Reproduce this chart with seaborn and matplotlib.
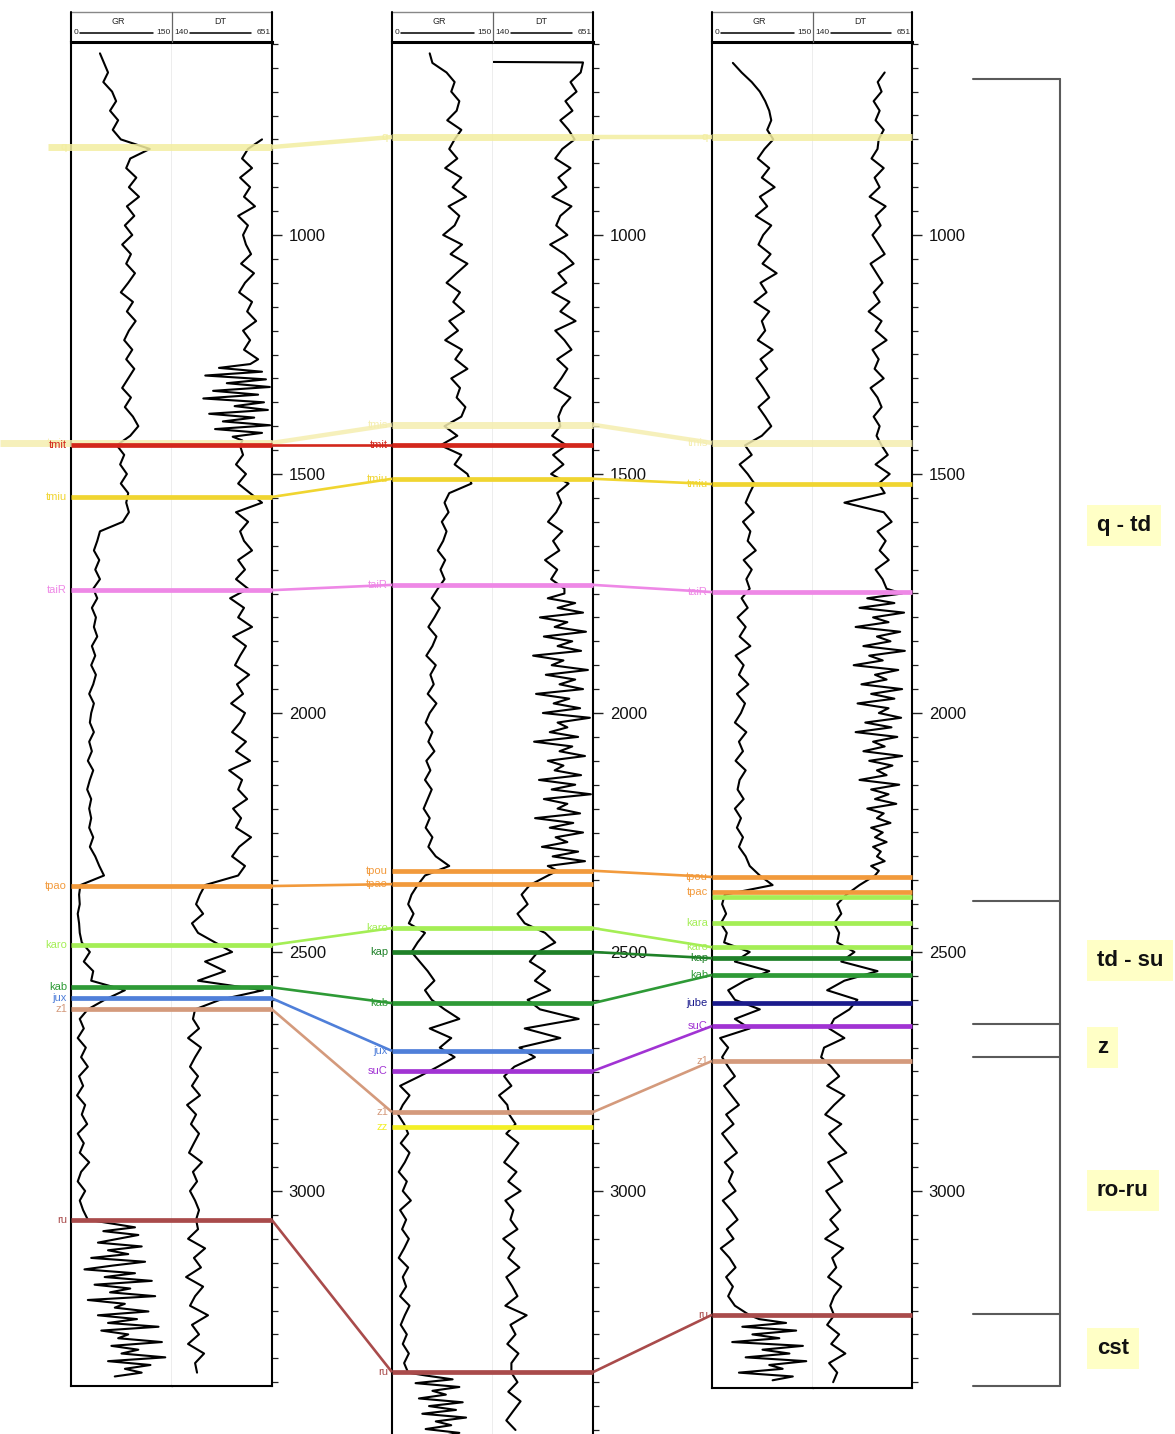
import numpy as np
import pandas as pd
import matplotlib
matplotlib.use("Agg")
import matplotlib.pyplot as plt
from matplotlib.ticker import FixedLocator, MultipleLocator
import seaborn as sns

sns.set_theme(style="white")
plt.rcParams["font.family"] = ["Liberation Sans", "DejaVu Sans"]

# ---------------------------------------------------------------- log data
# Each curve is stored as runs of readings: (top depth m, spacing m, values).
# GR in API (0-150), DT in the 140-651 track scale.

# well 1 ------------------------------------------------------------------
gr1_a = [43, 49, 55, 48, 61, 67, 58, 70, 62, 74,
         117,
         88, 82, 97, 86, 101, 83, 94, 80, 91,
         76, 89, 82, 95, 85, 74, 92, 83, 96, 86, 79, 91, 82, 94, 85, 76, 89, 80, 92, 100, 88,
         68, 79, 73, 83, 74, 85,
         82, 86, 77,
         43,
         39, 34, 42, 36, 43, 33, 39, 31, 37,
         34, 39, 31, 36, 30, 37, 33, 27, 34, 30,
         28, 34, 27, 31, 25, 33, 28, 24, 30, 27,
         30, 27, 33, 28, 36, 42, 49,
         14,
         12, 13, 10, 12, 13,
         16,
         28, 19, 33,
         30, 80, 50, 25,
         13, 19, 10, 22, 15, 25, 12, 18, 9, 21, 16, 24, 10, 19, 13, 27, 15, 10, 21, 13, 18,
         25]
gr1_b = [60, 95, 48, 100, 70, 40, 105, 55, 85, 30, 110, 62, 20, 95, 50, 120, 35, 88, 58, 125,
         25, 80, 65, 115, 40, 98, 55, 130, 45, 85, 70, 135, 60, 100, 75, 140, 55, 118, 80, 105,
         65]

dt1_a = [600,
         528, 498, 549, 488, 539, 508, 564, 478, 528, 503,
         518, 544, 493, 559, 513, 483, 549, 524, 570, 503,
         539, 508, 580]
dt1_b = [540, 380, 600, 310, 620, 420, 640, 350, 580, 300, 610, 460, 630, 330, 560, 400, 641,
         360, 600, 450, 500]
dt1_c = [487,
         503, 467, 518, 478, 539, 600, 467, 529, 488, 508, 549, 478, 513,
         467, 529, 437, 508, 478, 549, 452, 518, 488, 462, 534, 472, 503, 442, 513,
         488, 447, 518, 467, 539, 432, 498, 478, 524, 452, 493, 467, 544, 483, 447, 513, 478,
         309,
         283, 263, 299, 242, 273,
         360, 447, 309, 411,
         273, 605, 385, 258,
         247, 278, 222, 288, 258, 232, 273, 242, 283, 217, 263, 237, 278, 252, 227, 293, 247,
         268, 232, 258, 278,
         263,
         273, 222, 309, 252, 288, 212, 299, 258, 232, 324, 242, 278, 222, 304, 258, 268]

# well 2 ------------------------------------------------------------------
gr2_a = [56, 60,
         81, 93, 88, 100, 96, 82, 103, 93,
         85, 97, 79, 103, 90, 110, 84, 100, 93, 76, 104, 87, 112, 96, 81, 101, 91, 107, 85, 98,
         79, 104, 94, 112, 88, 101, 96, 109, 103,
         78, 97,
         72, 103, 93, 112, 118, 85,
         78, 84, 74, 81, 76, 68, 79, 72, 78,
         68, 59, 71, 63, 54, 66, 60, 51, 65, 57, 62, 53, 66, 56, 50, 60, 54, 63, 51, 57,
         49, 59, 53, 47, 56, 50, 60, 54, 65, 85,
         49,
         38,
         29, 24, 32, 25,
         49, 38, 29, 41, 53, 63, 49, 59,
         78, 100, 56, 88, 71,
         93, 68,
         41, 12, 26, 16,
         9,
         18, 24, 13, 26, 19, 10, 22, 16, 28, 12, 21, 15, 25, 18, 10, 24, 16, 21, 12, 26,
         19, 13, 22, 16, 25, 18,
         24]
gr2_b = [50, 90, 35, 100, 60, 80, 40, 105, 55, 95, 45, 110, 65, 88, 50, 100, 70]

dt2_top = [142, 600]
dt2_a = [588, 536, 567, 510, 546, 484, 526, 557,
         494, 458, 536, 474, 515, 443, 541, 484, 463, 520, 432, 505, 552, 474, 515, 443, 531,
         484, 562, 458, 505, 541, 468, 520, 489, 453, 536, 494, 474,
         484, 442, 515, 447, 500, 437, 526, 468, 489,
         463, 421, 494, 447, 479, 406, 468, 437, 505]
dt2_b = [505, 420, 560, 470, 600, 380, 520, 455, 615, 400,
         545, 470, 590, 345, 500, 440, 625, 410, 560, 480,
         600, 360, 530, 450, 585, 395, 635, 470, 520, 430,
         575, 350, 545, 480, 610, 420, 500, 455, 590, 375,
         560, 440, 640, 400, 520, 470, 585, 355, 550, 430,
         600, 460, 520, 390, 575, 445, 610, 420, 470]
dt2_c = [421,
         328,
         286, 317, 265, 302,
         406, 458, 369,
         328, 406, 354, 432, 317,
         380, 578, 302, 484, 275,
         354, 249,
         197, 234, 171, 213,
         223, 255, 208, 270, 234, 197, 260, 218, 281, 203, 244, 229, 265, 192, 249, 218, 275,
         208, 239, 265, 203, 312, 229, 255, 213, 270, 234,
         234, 265, 218, 281, 244, 208, 255]

# well 3 ------------------------------------------------------------------
gr3_a = [31, 44, 59, 71, 79, 85, 88, 82, 91,
         78, 68, 85, 74, 93, 71, 82, 65, 88, 76, 69, 87, 75, 96, 72, 81, 63, 85, 74, 79,
         68, 90, 72, 82, 66, 76, 85, 69, 79, 88, 74,
         49, 59, 41, 53, 63,
         56, 50, 62, 46, 57, 53, 65, 47, 59, 51, 56,
         44, 53, 38, 50, 41, 57, 35, 47, 40, 54, 37, 49, 43, 34, 51, 40, 46, 35, 50, 41,
         38, 47, 34, 43, 37, 46, 40, 50, 56, 71,
         90,
         19,
         15, 21, 13, 22,
         18,
         56, 34, 85,
         49, 24, 34,
         71, 34,
         56, 12, 24,
         15,
         24, 34, 18, 29, 40, 21, 32, 15, 26, 37, 19, 31, 25, 35, 16, 28, 38, 22, 32, 13,
         26, 35, 21, 31, 24, 34,
         56]
gr3_b = [70, 110, 45, 125, 60, 100, 30, 135, 75, 115, 50, 140, 85, 105, 40, 120, 90]

dt3_a = [510, 474, 494, 453, 484, 463, 505, 479,
         473, 442, 505, 458, 484, 432, 515, 463, 489, 447, 479, 510, 437, 468, 499, 453, 484,
         427, 494, 463, 520, 447, 479, 458, 505, 437, 473, 494, 453, 484, 468,
         494, 526, 463, 536, 479, 510, 302, 505, 546, 473, 515, 484, 531, 463, 499, 520]
dt3_b = [600, 420, 560, 380, 610, 450, 530, 360, 590, 470,
         540, 400, 614, 430, 500, 350, 580, 460, 520, 390,
         600, 440, 560, 370, 530, 480, 595, 410, 545, 360,
         575, 450, 510, 400, 600, 430, 550, 470, 520, 380,
         585, 440, 530, 460, 570, 420, 505, 470, 540, 440,
         500, 460, 520, 450, 490, 470, 510, 440, 480, 460]
dt3_c = [380,
         312,
         265, 286, 249, 275,
         265,
         354, 286, 473,
         302, 213, 369,
         328, 249,
         223, 302, 197,
         182,
         234, 275, 213, 302, 249, 203, 286, 223, 265, 312, 218, 255, 291, 208, 244, 281, 229,
         270, 203, 296, 239, 260, 218, 286, 249, 229,
         249,
         213, 275, 234, 307, 223, 265, 244]

curves = {
    ("w1", "GR"): [(620, 20, gr1_a), (3068, 8, gr1_b)],
    ("w1", "DT"): [(800, 20, dt1_a), (1270, 8, dt1_b), (1440, 20, dt1_c)],
    ("w2", "GR"): [(620, 20, gr2_a), (3386, 8, gr2_b)],
    ("w2", "DT"): [(638, 1, dt2_top), (660, 20, dt2_a), (1750, 10, dt2_b), (2340, 20, dt2_c)],
    ("w3", "GR"): [(640, 20, gr3_a), (3268, 8, gr3_b)],
    ("w3", "DT"): [(660, 20, dt3_a), (1750, 10, dt3_b), (2360, 20, dt3_c)],
}

# ---------------------------------------------------------------- horizon picks (m)
nan = np.nan
horizon_names = ["q", "tmis", "tmit", "tmiu", "taiR", "tpou", "tpao", "tpac", "", "kara",
                 "karo", "kap", "kab", "jux", "jube", "suC", "z1", "zz", "ru"]
horizon_colors = ["#f3eea0", "#f5eeb0", "#d3271c", "#f0d530", "#ee88e6", "#f29a3c", "#f29a3c",
                  "#f29a3c", "#a4ee55", "#a4ee55", "#a4ee55", "#1f8128", "#2e9a36", "#4f7fd9",
                  "#1b1b8c", "#a133d3", "#d49a7c", "#f3ef25", "#a94b4b"]
picks_w1 = [816, 1435, 1439, 1548, 1743, nan, 2362, nan, nan, nan,
            2485, nan, 2574, 2597, nan, nan, 2620, nan, 3061]
picks_w2 = [795, 1397, 1439, 1510, 1732, 2330, 2358, nan, nan, nan,
            2450, 2500, 2607, 2707, nan, 2749, 2835, 2866, 3379]
picks_w3 = [795, 1435, nan, 1521, 1747, 2343, nan, 2374, 2385, 2439,
            2490, 2513, 2548, nan, 2607, 2655, 2728, nan, 3259]

# ---------------------------------------------------------------- stratigraphic units
zone_edges = [674, 2393, 2651, 2720, 3257, 3408]
zone_names = ["q - td", "td - su", "z", "ro-ru", "cst"]
zone_label_depth = [1607, 2517, 2700, 2998, 3330]

depth_labels = [1000, 1500, 2000, 2500, 3000]

# ---------------------------------------------------------------- layout
W, H = 1175, 1434
wells = ["w1", "w2", "w3"]
well_left = [71, 392, 712]
well_mid = [172, 493, 813]
well_right = [272, 593, 912]
well_bottom = [1386, 1445, 1388]
HEAD_TOP, LOG_TOP = 12, 42


def y_to_depth(y):
    return 1000 + (y - 235) * (500 / 239.0)


def curve_frame(runs):
    parts = [pd.DataFrame({"value": vals, "depth": top + step * np.arange(len(vals))})
             for top, step, vals in runs]
    return pd.concat(parts, ignore_index=True)


fig = plt.figure(figsize=(W / 100, H / 100), dpi=100)
fig.patch.set_facecolor("white")

for i, well in enumerate(wells):
    L, M, R, B = well_left[i], well_mid[i], well_right[i], well_bottom[i]
    ylim = (y_to_depth(B), y_to_depth(LOG_TOP))
    for (x0, x1, xlim, log) in [(L, M, (0, 150), "GR"), (M, R, (140, 651), "DT")]:
        ax = fig.add_axes([x0 / W, 1 - B / H, (x1 - x0) / W, (B - LOG_TOP) / H])
        ax.set_facecolor("white")
        df = curve_frame(curves[(well, log)])
        sns.lineplot(data=df, x="value", y="depth", orient="y", sort=False, estimator=None,
                     color="black", linewidth=1.5, ax=ax, legend=False)
        ax.set_xlim(*xlim)
        ax.set_ylim(*ylim)
        ax.set_xlabel("")
        ax.set_ylabel("")
        ax.set_xticks([])
        for s in ax.spines.values():
            s.set_visible(True)
            s.set_color("black")
            s.set_linewidth(1.5)
        ax.spines["top"].set_linewidth(2.2)
        if log == "GR":
            ax.spines["right"].set_color("#777777")
            ax.spines["right"].set_linewidth(0.9)
            ax.set_yticks([])
        else:
            ax.spines["left"].set_visible(False)
            ax.yaxis.set_major_locator(FixedLocator(depth_labels))
            ax.yaxis.set_minor_locator(MultipleLocator(50))
            ax.tick_params(axis="y", which="both", left=False, labelleft=False,
                           right=True, labelright=True, direction="out", color="#222222")
            ax.tick_params(axis="y", which="major", length=7, width=1.0, labelsize=12,
                           pad=5, labelcolor="#111111")
            ax.tick_params(axis="y", which="minor", length=4, width=0.9)

# depth-referenced overlay for horizons and unit brackets
axd = fig.add_axes([0, 0, 1, 1])
axd.set_xlim(0, W)
axd.set_ylim(y_to_depth(H), y_to_depth(0))
axd.set_facecolor("none")
axd.axis("off")

lead_in = {"q": 48, "tmis": 0}
pale = {"q", "tmis"}
order = sorted(range(len(horizon_names)), key=lambda k: 0 if horizon_names[k] in pale else 1)
for k in order:
    name, col = horizon_names[k], horizon_colors[k]
    picks = [picks_w1[k], picks_w2[k], picks_w3[k]]
    in_lw = 5.0 if name in pale else 3.4
    alpha = 0.85 if name in pale else 1.0
    for i, d in enumerate(picks):
        if np.isnan(d):
            continue
        x0 = lead_in.get(name, well_left[i]) if i == 0 else well_left[i]
        axd.plot([x0, well_right[i]], [d, d], color=col, lw=in_lw, alpha=alpha,
                 solid_capstyle="butt", zorder=3)
        if name:
            axd.text(well_left[i] - 4, d, name, color=col, fontsize=8,
                     ha="right", va="center", zorder=4)
    for i in range(2):
        if not (np.isnan(picks[i]) or np.isnan(picks[i + 1])):
            axd.plot([well_right[i], well_left[i + 1]], [picks[i], picks[i + 1]],
                     color=col, lw=3.2 if name in pale else 1.9, alpha=alpha,
                     solid_capstyle="butt", zorder=3)

# unit bracket on the right
for d in zone_edges:
    axd.plot([973, 1060], [d, d], color="#5a5a5a", lw=1.5)
axd.plot([1060, 1060], [zone_edges[0], zone_edges[-1]], color="#5a5a5a", lw=1.5)
for name, d in zip(zone_names, zone_label_depth):
    axd.text(1097, d, name, fontsize=16, fontweight="bold", color="#111111",
             ha="left", va="center",
             bbox=dict(boxstyle="square,pad=0.45", fc="#ffffc6", ec="none"))

# pixel overlay for the track headers
axp = fig.add_axes([0, 0, 1, 1])
axp.set_xlim(0, W)
axp.set_ylim(H, 0)
axp.set_facecolor("none")
axp.axis("off")
for L, M, R in zip(well_left, well_mid, well_right):
    axp.plot([L, R], [HEAD_TOP, HEAD_TOP], color="#888888", lw=1.0)
    axp.plot([L, L], [HEAD_TOP, LOG_TOP], color="black", lw=1.5)
    axp.plot([R, R], [HEAD_TOP, LOG_TOP], color="black", lw=1.5)
    axp.plot([M, M], [HEAD_TOP, LOG_TOP], color="#666666", lw=0.9)
    axp.text((L + M) / 2 - 3, 22, "GR", fontsize=6.5, ha="center", va="center")
    axp.text((M + R) / 2 - 2, 22, "DT", fontsize=6.5, ha="center", va="center")
    axp.plot([L + 9, M - 19], [33, 33], color="black", lw=1.1)
    axp.text(L + 3, 33, "0", fontsize=6, ha="left", va="center")
    axp.text(M - 1, 33, "150", fontsize=6, ha="right", va="center")
    axp.plot([M + 18, R - 21], [33, 33], color="black", lw=1.1)
    axp.text(M + 2, 33, "140", fontsize=6, ha="left", va="center")
    axp.text(R - 1, 33, "651", fontsize=6, ha="right", va="center")

fig.savefig("out.png", dpi=100)
